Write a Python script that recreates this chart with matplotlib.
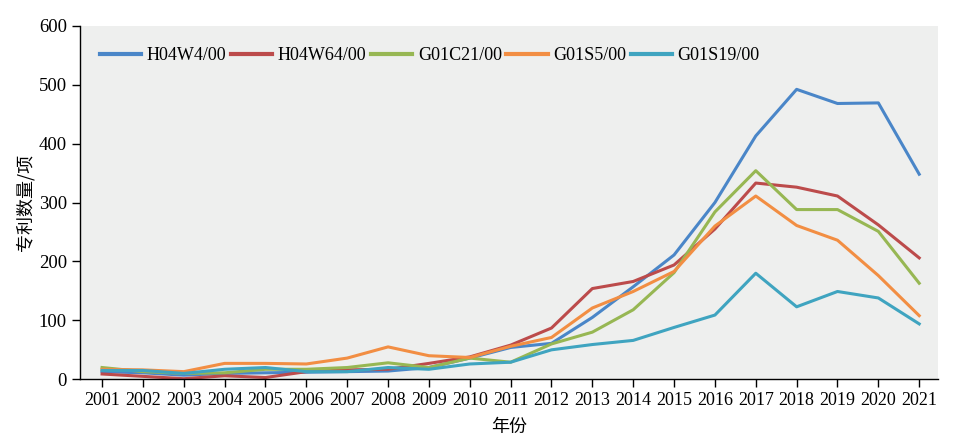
import numpy as np
import matplotlib.pyplot as plt

years = list(range(2001, 2022))
h04w4 = [13, 11, 7, 10, 11, 12, 13, 14, 20, 36, 54, 61, 105, 157, 211, 300, 413, 492, 468, 469, 348]
h04w64 = [9, 5, 1, 6, 3, 13, 16, 17, 27, 38, 58, 87, 154, 166, 194, 255, 333, 326, 311, 262, 206]
g01c21 = [20, 13, 10, 11, 17, 17, 20, 28, 20, 36, 29, 60, 80, 118, 181, 284, 354, 288, 288, 251, 163]
g01s5 = [17, 16, 13, 27, 27, 26, 36, 55, 40, 37, 56, 71, 121, 149, 183, 260, 311, 261, 236, 176, 108]
g01s19 = [15, 15, 10, 17, 20, 13, 13, 20, 17, 26, 29, 50, 59, 66, 88, 109, 180, 123, 149, 138, 94]

names = ['H04W4/00', 'H04W64/00', 'G01C21/00', 'G01S5/00', 'G01S19/00']
colors = ['#4a86c8', '#bc4b4b', '#97b753', '#f28e43', '#3fa4c0']
series = [h04w4, h04w64, g01c21, g01s5, g01s19]

plt.rcParams['font.family'] = ['Liberation Serif', 'Noto Sans CJK SC']

fig = plt.figure(figsize=(9.75, 4.41), dpi=100)
ax = fig.add_axes([80/975, 61.7/441, 858/975, 353.6/441])
ax.set_facecolor('#eeefee')

for vals, name, c in zip(series, names, colors):
    ax.plot(years, vals, color=c, lw=2.2, label=name)

ax.set_xlim(2000.46, 2021.46)
ax.set_ylim(0, 600)
ax.set_xticks(years)
ax.set_yticks(range(0, 601, 100))
ax.tick_params(axis='x', direction='out', length=6, width=1, labelsize=13, colors='black')
ax.tick_params(axis='y', direction='out', length=6, width=1, labelsize=13.5, colors='black')
for s in ['top', 'right']:
    ax.spines[s].set_visible(False)
for s in ['left', 'bottom']:
    ax.spines[s].set_linewidth(1)

ax.set_xlabel('年份', fontsize=13, family='Noto Sans CJK SC', labelpad=6)
ax.set_ylabel('专利数量/项', fontsize=13, family='Noto Sans CJK SC', labelpad=3)

leg = ax.legend(loc='upper left', ncol=5, frameon=False, fontsize=13,
                handlelength=2.3, handletextpad=0.3, columnspacing=0.25,
                bbox_to_anchor=(0.004, 0.985))
for line in leg.get_lines():
    line.set_linewidth(3)

fig.savefig('out.png', dpi=100)
